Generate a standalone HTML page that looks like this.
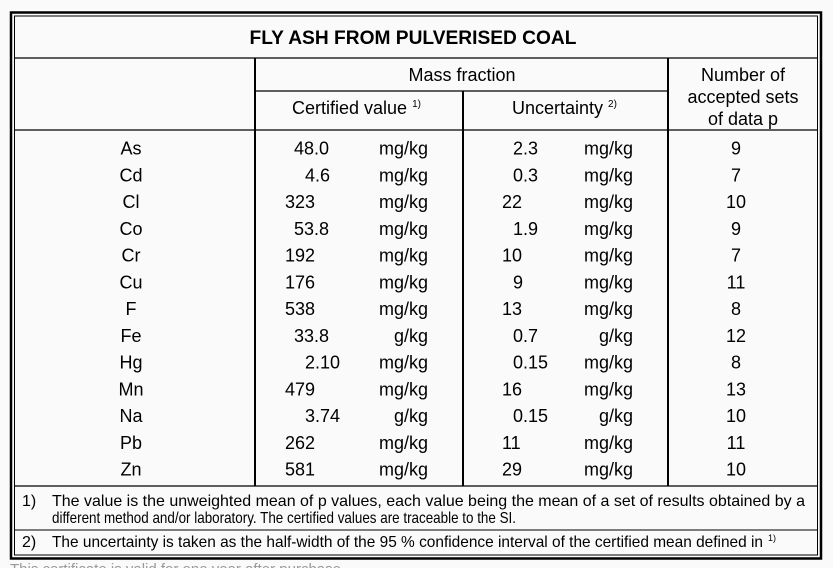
<!DOCTYPE html>
<html><head><style>
html,body{margin:0;padding:0;background:#fafafa;}
svg{display:block;}
text{font-family:"Liberation Sans",Arial,sans-serif;fill:#000;}
</style></head><body>
<svg width="833" height="568" viewBox="0 0 833 568" xmlns="http://www.w3.org/2000/svg">
<rect width="833" height="568" fill="#fafafa"/>
<rect x="11" y="12.5" width="810" height="546" fill="none" stroke="#000" stroke-width="2.5"/>
<rect x="14.5" y="16" width="803" height="539" fill="none" stroke="#000" stroke-width="1"/>
<line x1="14" y1="58" x2="818" y2="58" stroke="#000" stroke-width="1.2"/>
<line x1="255" y1="91" x2="668" y2="91" stroke="#000" stroke-width="1.2"/>
<line x1="14" y1="130" x2="818" y2="130" stroke="#000" stroke-width="1.2"/>
<line x1="14" y1="486" x2="818" y2="486" stroke="#000" stroke-width="1.2"/>
<line x1="14" y1="530" x2="818" y2="530" stroke="#000" stroke-width="1"/>
<line x1="255" y1="58" x2="255" y2="486" stroke="#000" stroke-width="2"/>
<line x1="463" y1="91" x2="463" y2="486" stroke="#000" stroke-width="2"/>
<line x1="668" y1="58" x2="668" y2="486" stroke="#000" stroke-width="2"/>

<text x="413" y="44" text-anchor="middle" font-size="19" font-weight="bold" textLength="327" lengthAdjust="spacingAndGlyphs">FLY ASH FROM PULVERISED COAL</text>
<text x="462" y="81" text-anchor="middle" font-size="18">Mass fraction</text>
<text x="292" y="114" font-size="18">Certified value <tspan font-size="10" dy="-7">1)</tspan></text>
<text x="512" y="114" font-size="18">Uncertainty <tspan font-size="10" dy="-7">2)</tspan></text>
<text x="743" y="81" text-anchor="middle" font-size="18">Number of</text>
<text x="743" y="103" text-anchor="middle" font-size="18">accepted sets</text>
<text x="743" y="125" text-anchor="middle" font-size="18">of data p</text>

<g font-size="18">
<g transform="translate(0,154.5)">
<text x="131" y="0" text-anchor="middle">As</text><text x="294" y="0">48.0</text><text x="428" y="0" text-anchor="end">mg/kg</text><text x="513" y="0">2.3</text><text x="633" y="0" text-anchor="end">mg/kg</text><text x="736" y="0" text-anchor="middle">9</text>
</g>
<g transform="translate(0,181.25)">
<text x="131" y="0" text-anchor="middle">Cd</text><text x="305" y="0">4.6</text><text x="428" y="0" text-anchor="end">mg/kg</text><text x="513" y="0">0.3</text><text x="633" y="0" text-anchor="end">mg/kg</text><text x="736" y="0" text-anchor="middle">7</text>
</g>
<g transform="translate(0,208)">
<text x="131" y="0" text-anchor="middle">Cl</text><text x="285" y="0">323</text><text x="428" y="0" text-anchor="end">mg/kg</text><text x="502" y="0">22</text><text x="633" y="0" text-anchor="end">mg/kg</text><text x="736" y="0" text-anchor="middle">10</text>
</g>
<g transform="translate(0,234.75)">
<text x="131" y="0" text-anchor="middle">Co</text><text x="294" y="0">53.8</text><text x="428" y="0" text-anchor="end">mg/kg</text><text x="513" y="0">1.9</text><text x="633" y="0" text-anchor="end">mg/kg</text><text x="736" y="0" text-anchor="middle">9</text>
</g>
<g transform="translate(0,261.5)">
<text x="131" y="0" text-anchor="middle">Cr</text><text x="285" y="0">192</text><text x="428" y="0" text-anchor="end">mg/kg</text><text x="502" y="0">10</text><text x="633" y="0" text-anchor="end">mg/kg</text><text x="736" y="0" text-anchor="middle">7</text>
</g>
<g transform="translate(0,288.25)">
<text x="131" y="0" text-anchor="middle">Cu</text><text x="285" y="0">176</text><text x="428" y="0" text-anchor="end">mg/kg</text><text x="513" y="0">9</text><text x="633" y="0" text-anchor="end">mg/kg</text><text x="736" y="0" text-anchor="middle">11</text>
</g>
<g transform="translate(0,315)">
<text x="131" y="0" text-anchor="middle">F</text><text x="285" y="0">538</text><text x="428" y="0" text-anchor="end">mg/kg</text><text x="502" y="0">13</text><text x="633" y="0" text-anchor="end">mg/kg</text><text x="736" y="0" text-anchor="middle">8</text>
</g>
<g transform="translate(0,341.75)">
<text x="131" y="0" text-anchor="middle">Fe</text><text x="294" y="0">33.8</text><text x="428" y="0" text-anchor="end">g/kg</text><text x="513" y="0">0.7</text><text x="633" y="0" text-anchor="end">g/kg</text><text x="736" y="0" text-anchor="middle">12</text>
</g>
<g transform="translate(0,368.5)">
<text x="131" y="0" text-anchor="middle">Hg</text><text x="305" y="0">2.10</text><text x="428" y="0" text-anchor="end">mg/kg</text><text x="513" y="0">0.15</text><text x="633" y="0" text-anchor="end">mg/kg</text><text x="736" y="0" text-anchor="middle">8</text>
</g>
<g transform="translate(0,395.25)">
<text x="131" y="0" text-anchor="middle">Mn</text><text x="285" y="0">479</text><text x="428" y="0" text-anchor="end">mg/kg</text><text x="502" y="0">16</text><text x="633" y="0" text-anchor="end">mg/kg</text><text x="736" y="0" text-anchor="middle">13</text>
</g>
<g transform="translate(0,422)">
<text x="131" y="0" text-anchor="middle">Na</text><text x="305" y="0">3.74</text><text x="428" y="0" text-anchor="end">g/kg</text><text x="513" y="0">0.15</text><text x="633" y="0" text-anchor="end">g/kg</text><text x="736" y="0" text-anchor="middle">10</text>
</g>
<g transform="translate(0,448.75)">
<text x="131" y="0" text-anchor="middle">Pb</text><text x="285" y="0">262</text><text x="428" y="0" text-anchor="end">mg/kg</text><text x="502" y="0">11</text><text x="633" y="0" text-anchor="end">mg/kg</text><text x="736" y="0" text-anchor="middle">11</text>
</g>
<g transform="translate(0,475.5)">
<text x="131" y="0" text-anchor="middle">Zn</text><text x="285" y="0">581</text><text x="428" y="0" text-anchor="end">mg/kg</text><text x="502" y="0">29</text><text x="633" y="0" text-anchor="end">mg/kg</text><text x="736" y="0" text-anchor="middle">10</text>
</g>
</g>

<g font-size="16">
<text x="22" y="506">1)</text>
<text x="52" y="506" textLength="753" lengthAdjust="spacingAndGlyphs">The value is the unweighted mean of p values, each value being the mean of a set of results obtained by a</text>
<text x="52" y="523" textLength="464" lengthAdjust="spacingAndGlyphs">different method and/or laboratory. The certified values are traceable to the SI.</text>
<text x="22" y="547">2)</text>
<text x="52" y="547" textLength="711" lengthAdjust="spacingAndGlyphs">The uncertainty is taken as the half-width of the 95 % confidence interval of the certified mean defined in</text>
<text x="768" y="541" font-size="9">1)</text>
</g>
<text x="10" y="574" font-size="15" style="fill:#999">This certificate is valid for one year after purchase.</text>
</svg>
</body></html>
